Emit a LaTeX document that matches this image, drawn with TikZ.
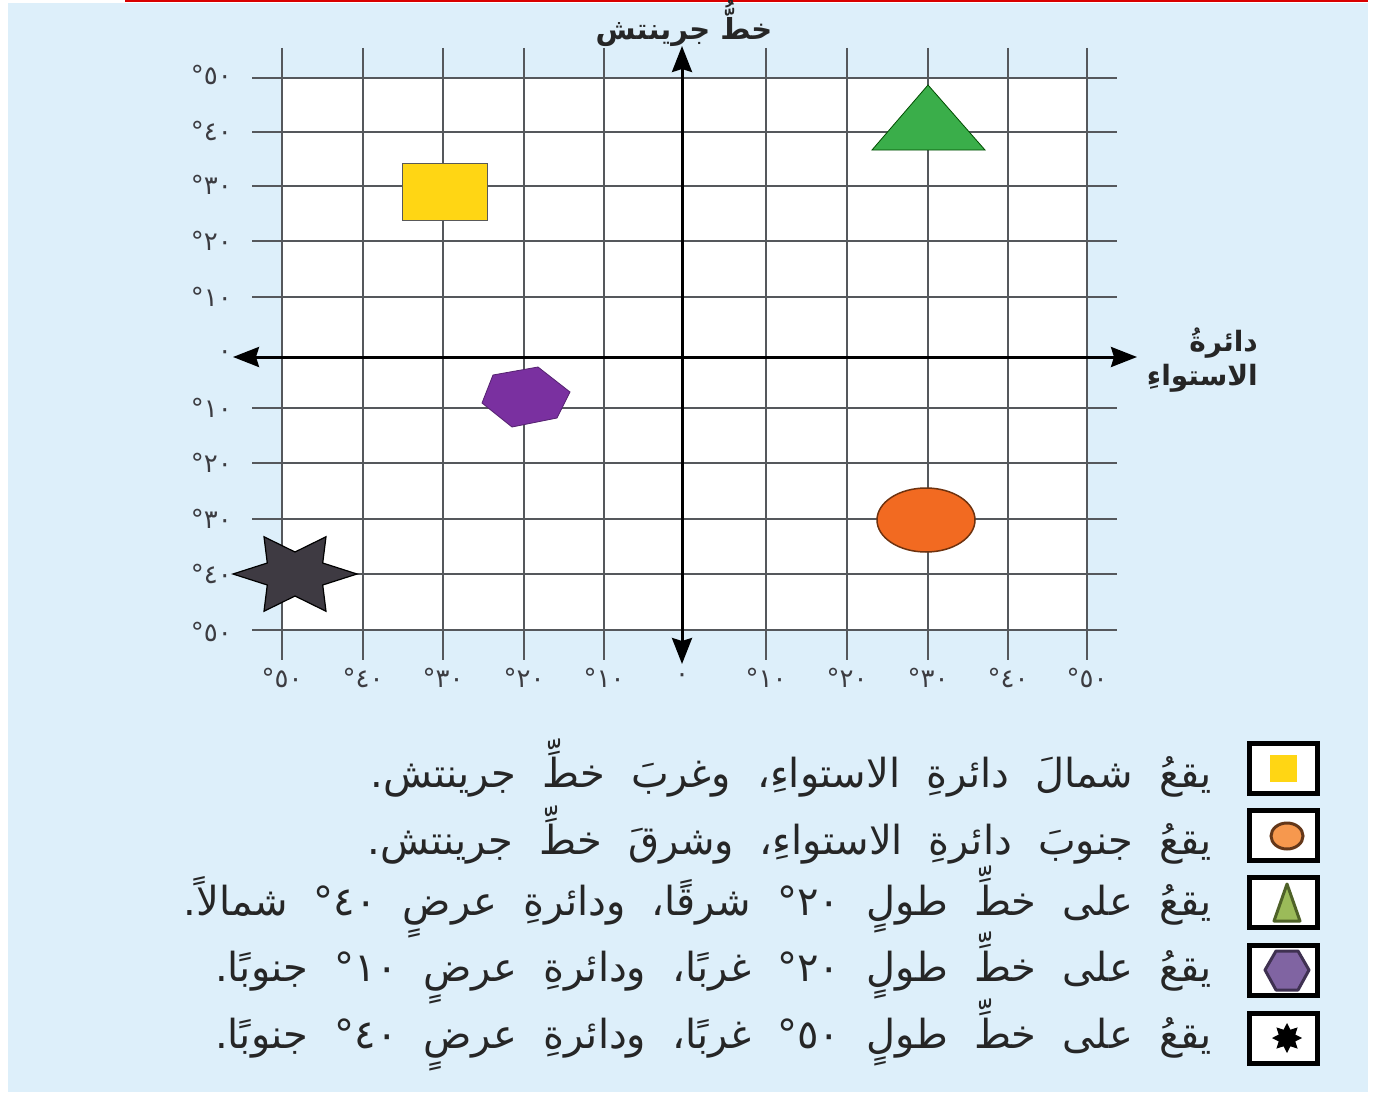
\documentclass[tikz,border=0pt]{standalone}
\usepackage{fontspec}
\usetikzlibrary{arrows.meta,calc}
\TeXXeTstate=1
\newfontfamily\arabicfont[Script=Arabic]{DejaVu Sans}
\newcommand\legspace{\spaceskip=26pt\relax}
\definecolor{bgblue}{RGB}{221,239,250}
\definecolor{gridgray}{RGB}{85,88,92}
\definecolor{sqyellow}{RGB}{255,214,20}
\definecolor{trigreen}{RGB}{58,174,74}
\definecolor{hexpurple}{RGB}{122,48,160}
\definecolor{circorange}{RGB}{242,106,33}
\definecolor{circedge}{RGB}{110,50,15}
\definecolor{stardark}{RGB}{62,58,66}
\definecolor{lgorange}{RGB}{246,152,78}
\definecolor{lgbrown}{RGB}{100,55,25}
\definecolor{lggreen}{RGB}{155,187,89}
\definecolor{lgolive}{RGB}{79,98,40}
\definecolor{lgpurple}{RGB}{128,100,162}
\definecolor{lgdpurple}{RGB}{63,49,81}
\definecolor{labgray}{RGB}{60,60,65}
\tikzset{
  gridline/.style={draw=gridgray, line width=1.8pt},
  axisline/.style={draw=black, line width=3pt, {Stealth[length=26pt,width=20pt,inset=3pt]}-{Stealth[length=26pt,width=20pt,inset=3pt]}},
  ticklabel/.style={font=\arabicfont\fontsize{26}{28}\selectfont, text=labgray, inner sep=0pt},
  axislabel/.style={font=\arabicfont\bfseries\fontsize{29}{31}\selectfont, text=black!85, inner sep=0pt},
  legendbox/.style={draw=black, line width=5pt, fill=white, minimum width=68pt, minimum height=50pt, inner sep=0pt},
  legendtext/.style={font=\arabicfont\fontsize{40}{44}\selectfont\legspace, text=black!85, anchor=east, inner sep=0pt},
}
\begin{document}
\begin{tikzpicture}[x=1pt,y=-1pt]
\useasboundingbox (0,0) rectangle (1375,1097);
\fill[bgblue] (8,3) rectangle (1368,1092);
\draw[red!85!black, line width=2pt] (125,1) -- (1368,1);
% grid
\fill[white] (282,78) rectangle (1087,630);
\foreach \x in {282,363,443,524,604,766,847,928,1008,1087}
  \draw[gridline] (\x,48) -- (\x,660);
\foreach \y in {78,132,186,241,297,408,463,519,574,630}
  \draw[gridline] (252,\y) -- (1117,\y);
% latitude labels
\node[ticklabel, anchor=east] (la50) at (232,75) {٥٠°};
\node[ticklabel, anchor=east] (la40) at (232,131) {٤٠°};
\node[ticklabel, anchor=east] (la30) at (232,185) {٣٠°};
\node[ticklabel, anchor=east] (la20) at (232,241) {٢٠°};
\node[ticklabel, anchor=east] (la10) at (232,297) {١٠°};
\node[ticklabel, anchor=east] (la0) at (232,355) {٠};
\node[ticklabel, anchor=east] (ls10) at (232,408) {١٠°};
\node[ticklabel, anchor=east] (ls20) at (232,463) {٢٠°};
\node[ticklabel, anchor=east] (ls30) at (232,519) {٣٠°};
\node[ticklabel, anchor=east] (ls40) at (232,574) {٤٠°};
\node[ticklabel, anchor=east] (ls50) at (232,632) {٥٠°};
% longitude labels
\node[ticklabel] (lw50) at (282,678) {٥٠°};
\node[ticklabel] (lw40) at (363,678) {٤٠°};
\node[ticklabel] (lw30) at (443,678) {٣٠°};
\node[ticklabel] (lw20) at (524,678) {٢٠°};
\node[ticklabel] (lw10) at (604,678) {١٠°};
\node[ticklabel] (lo0) at (682,678) {٠};
\node[ticklabel] (le10) at (766,678) {١٠°};
\node[ticklabel] (le20) at (847,678) {٢٠°};
\node[ticklabel] (le30) at (928,678) {٣٠°};
\node[ticklabel] (le40) at (1008,678) {٤٠°};
\node[ticklabel] (le50) at (1087,678) {٥٠°};
% axes
\coordinate (N) at (682,46);
\coordinate (S) at (682,664);
\coordinate (W) at (233,357);
\coordinate (E) at (1137,357);
\draw[axisline] (S) -- (N);
\draw[axisline] (W) -- (E);
\node[axislabel] (greenwich) at (684,23) {\beginR خطُّ جرينتش\endR};
\node[axislabel, align=right, anchor=east, font=\arabicfont\bfseries\fontsize{28}{34}\selectfont] (equator) at (1258,360) {\beginR دائرةُ\endR\\\beginR الاستواءِ\endR};
% shapes
\draw[fill=sqyellow, draw=gray!70!black, line width=1pt] (402,163) rectangle (487,220);
\draw[fill=trigreen, draw=green!30!black, line width=0.8pt] (928,85) -- (985,150) -- (872,150) -- cycle;
\draw[fill=hexpurple, draw=hexpurple!70!black, line width=0.8pt] (493,375) -- (538,367) -- (570,392) -- (557,418) -- (512,427) -- (482,403) -- cycle;
\draw[fill=circorange, draw=circedge, line width=1.5pt] (926,520) ellipse [x radius=49, y radius=32];
\draw[fill=stardark, draw=black, line width=1.2pt]
  (357,574)
  \foreach \i in {0,...,5} {
    -- ($(295,574)+({32*cos(\i*60+30)},{-22*sin(\i*60+30)})$)
    -- ($(295,574)+({62*cos(\i*60+60)},{-43*sin(\i*60+60)})$)
  } -- cycle;
% legend boxes
\node[legendbox] (b1) at (1283,768) {};
\node[legendbox] (b2) at (1283,835) {};
\node[legendbox] (b3) at (1283,902) {};
\node[legendbox] (b4) at (1283,970) {};
\node[legendbox] (b5) at (1283,1038) {};
\fill[sqyellow] (1270,755) rectangle (1297,782);
\draw[fill=lgorange, draw=lgbrown, line width=3pt] (1287,836) ellipse [x radius=16, y radius=13];
\draw[fill=lggreen, draw=lgolive, line width=3pt, line join=round] (1287,884) -- (1300,921) -- (1274,921) -- cycle;
\draw[fill=lgpurple, draw=lgdpurple, line width=3pt, line join=round] (1276,951) -- (1298,951) -- (1309,970) -- (1298,990) -- (1276,990) -- (1265,970) -- cycle;
\fill[black] (1287,1023)
  \foreach \i in {0,...,7} {
    -- ($(1287,1038)+({9*cos(\i*45+112.5)},{-9*sin(\i*45+112.5)})$)
    -- ($(1287,1038)+({15*cos(\i*45+135)},{-15*sin(\i*45+135)})$)
  } -- cycle;
% legend texts
\node[legendtext] (t1) at (1212,768) {\beginR يقعُ شمالَ دائرةِ الاستواءِ، وغربَ خطِّ جرينتش.\endR};
\node[legendtext] (t2) at (1212,835) {\beginR يقعُ جنوبَ دائرةِ الاستواءِ، وشرقَ خطِّ جرينتش.\endR};
\node[legendtext] (t3) at (1212,902) {\beginR يقعُ على خطِّ طولٍ \beginL٢٠°\endL{} شرقًا، ودائرةِ عرضٍ \beginL٤٠°\endL{} شمالاً.\endR};
\node[legendtext] (t4) at (1212,968) {\beginR يقعُ على خطِّ طولٍ \beginL٢٠°\endL{} غربًا، ودائرةِ عرضٍ \beginL١٠°\endL{} جنوبًا.\endR};
\node[legendtext] (t5) at (1212,1035) {\beginR يقعُ على خطِّ طولٍ \beginL٥٠°\endL{} غربًا، ودائرةِ عرضٍ \beginL٤٠°\endL{} جنوبًا.\endR};
\end{tikzpicture}
\end{document}
